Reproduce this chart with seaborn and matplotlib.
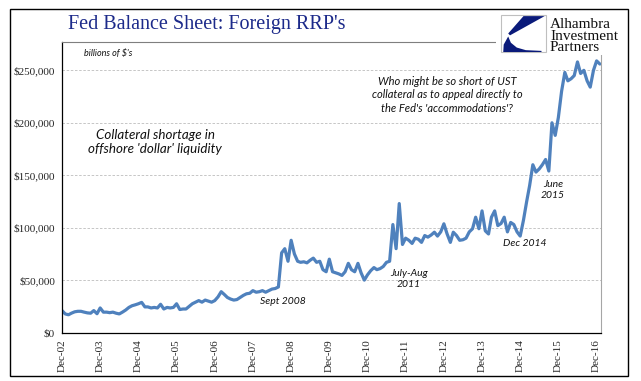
import matplotlib
matplotlib.use("Agg")
import matplotlib.pyplot as plt
from matplotlib.patches import Rectangle, Polygon
import seaborn as sns
import pandas as pd

# monthly readings of the weekly series, Dec 2002 .. Jan 2017
start_month = "2002-12-01"
rrp_values = [
    21000, 17800, 17000, 18500, 19800, 20300, 20300, 19500, 18800, 18500, 21000, 18000,
    23500, 19500, 19500, 19000, 19500, 18500, 17800, 19500, 21500, 24000, 25600, 26500,
    27500, 28800, 24500, 24500, 23500, 24000, 23500, 27000, 22500, 24000, 23500, 24000,
    27500, 22000, 22500, 22500, 25000, 27500, 29000, 30500, 29000, 31000, 30000, 29000,
    30500, 34000, 39000, 36500, 33500, 32000, 31000, 31500, 33500, 35500, 37000, 37500,
    40000, 38500, 39000, 40000, 38500, 40000, 41500, 42000, 43500, 76000, 80000, 68000,
    88000, 75000, 68000, 67000, 67500, 66500, 69000, 71000, 67000, 68000, 60000, 58000,
    70000, 58000, 57000, 56000, 54500, 58000, 66000, 60000, 58000, 66000, 57000, 50000,
    55000, 59000, 62000, 60000, 61000, 63000, 67000, 68000, 103000, 80000, 123000, 84000,
    90000, 88000, 85000, 90000, 89000, 86000, 92500, 91000, 93000, 95700, 92000, 96000,
    103700, 94000, 86000, 95700, 92500, 88000, 88500, 90000, 96000, 99000, 110000, 99000,
    116000, 97000, 94000, 110000, 116000, 102000, 104000, 110000, 96000, 105000, 103000, 96000,
    92000, 107000, 125000, 140000, 160000, 153000, 156000, 160000, 165000, 154000, 200000, 188000,
    205000, 230000, 248000, 240000, 242000, 245000, 258000, 247000, 250000, 240000, 234000, 250000,
    259000, 256000,
]
tick_dates = ["2002-12-01", "2003-12-01", "2004-12-01", "2005-12-01", "2006-12-01",
              "2007-12-01", "2008-12-01", "2009-12-01", "2010-12-01", "2011-12-01",
              "2012-12-01", "2013-12-01", "2014-12-01", "2015-12-01", "2016-12-01"]
tick_labels = ["Dec-02", "Dec-03", "Dec-04", "Dec-05", "Dec-06", "Dec-07", "Dec-08",
               "Dec-09", "Dec-10", "Dec-11", "Dec-12", "Dec-13", "Dec-14", "Dec-15", "Dec-16"]
y_ticks = [0, 50000, 100000, 150000, 200000, 250000]

df = pd.DataFrame({
    "date": pd.date_range(start_month, periods=len(rrp_values), freq="MS"),
    "rrp": rrp_values,
})

W, H = 641, 381


def fx(x):
    return x / W


def fy(y):
    return 1 - y / H


sns.set_style("white")
fig = plt.figure(figsize=(W / 100, H / 100), dpi=100)
ax = fig.add_axes([fx(62), fy(332.6), (601 - 62) / W, (332.6 - 42) / H])

sns.lineplot(data=df, x="date", y="rrp", ax=ax, color="#4F81BD", linewidth=2.3)

ax.set_xlim(pd.Timestamp("2002-12-01"), pd.Timestamp("2017-01-12"))
ax.set_ylim(0, 277000)
ax.set_yticks(y_ticks)
ax.set_yticklabels(["${:,}".format(v) for v in y_ticks], fontfamily="Liberation Serif", fontsize=8)
ax.set_xticks(pd.to_datetime(tick_dates))
ax.set_xticklabels(tick_labels, rotation=90, fontfamily="Liberation Serif", fontsize=8)
ax.set_xlabel("")
ax.set_ylabel("")
ax.tick_params(axis="both", length=3, width=0.8, color="black", pad=2, direction="out")
ax.yaxis.grid(True, color="#BDBDBD", linestyle=(0, (3, 2)), linewidth=0.6)
ax.xaxis.grid(False)
for side in ["left", "bottom"]:
    ax.spines[side].set_color("black")
    ax.spines[side].set_linewidth(0.9)
ax.spines["right"].set_color("#A6A6A6")
ax.spines["top"].set_color("#7F7F7F")
ax.spines["right"].set_linewidth(0.8)
ax.spines["top"].set_linewidth(0.8)

note_font = dict(fontfamily="Lato", style="italic", color="#111111")
ax.text(0.04, 0.975, "billions of $'s", transform=ax.transAxes, fontsize=6.5,
        va="top", ha="left", **note_font)
fig.text(fx(155), fy(142), "Collateral shortage in\noffshore 'dollar' liquidity",
         ha="center", va="center", fontsize=9.6, linespacing=1.2, **note_font)
fig.text(fx(447), fy(95), "Who might be so short of UST\ncollateral as to appeal directly to\nthe Fed's 'accommodations'?",
         ha="center", va="center", fontsize=8, linespacing=1.3, **note_font)
fig.text(fx(283), fy(301), "Sept 2008", ha="center", va="center", fontsize=7.5, **note_font)
fig.text(fx(409), fy(279), "July-Aug\n2011", ha="center", va="center", fontsize=7.5, linespacing=1.3, **note_font)
fig.text(fx(525), fy(243), "Dec 2014", ha="center", va="center", fontsize=7.5, **note_font)
fig.text(fx(553), fy(190), "June\n2015", ha="center", va="center", fontsize=7.5, linespacing=1.3, **note_font)

# title
fig.text(fx(68), fy(29), "Fed Balance Sheet: Foreign RRP's", ha="left", va="baseline",
         fontfamily="Liberation Serif", fontsize=14.5, color="#1C2A8A")

# logo block covering the end of the top spine
fig.add_artist(Rectangle((fx(496), fy(55)), (627 - 496) / W, 43 / H, transform=fig.transFigure,
                         facecolor="white", edgecolor="none", zorder=10))
fig.add_artist(Rectangle((fx(501), fy(52)), 45 / W, 37 / H, transform=fig.transFigure,
                         facecolor="white", edgecolor="#BFBFBF", linewidth=0.8, zorder=11))


def logo_pts(pts):
    return [(fx(501 + 45 * u), fy(52 - 37 * v)) for u, v in pts]


fig.add_artist(Polygon(logo_pts([(0.5, 0.97), (0.97, 0.97), (0.2, 0.45), (0.16, 0.5)]),
                       closed=True, transform=fig.transFigure, facecolor="#0A1A7A",
                       edgecolor="none", zorder=12))
fig.add_artist(Polygon(logo_pts([(0.16, 0.42), (0.22, 0.25), (0.35, 0.12), (0.55, 0.05),
                                 (0.9, 0.03), (0.9, 0.0), (0.05, 0.0), (0.06, 0.2)]),
                       closed=True, transform=fig.transFigure, facecolor="#0A1A7A",
                       edgecolor="none", zorder=12))
for txt, base in [("Alhambra", 28), ("Investment", 39.5), ("Partners", 51)]:
    fig.text(fx(550), fy(base), txt, ha="left", va="baseline", fontfamily="Liberation Serif",
             fontsize=11, color="#111111", zorder=13)

# outer frame
fig.add_artist(Rectangle((fx(10), fy(376)), 618 / W, 367 / H, transform=fig.transFigure,
                         fill=False, edgecolor="black", linewidth=1.0, zorder=20))

fig.savefig("out.png", dpi=100)
